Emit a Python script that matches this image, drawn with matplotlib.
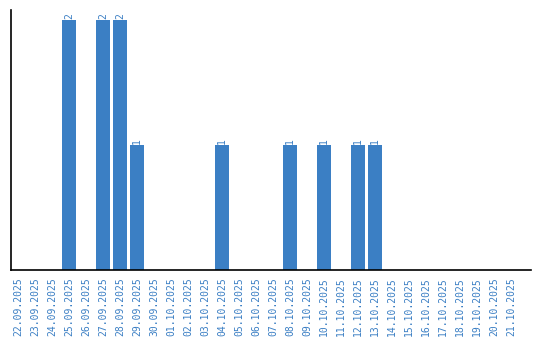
import matplotlib.pyplot as plt
import numpy as np

# daty i liczby
dates = ['22.09.2025', '23.09.2025', '24.09.2025', '25.09.2025', '26.09.2025',
         '27.09.2025', '28.09.2025', '29.09.2025', '30.09.2025', '01.10.2025',
         '02.10.2025', '03.10.2025', '04.10.2025', '05.10.2025', '06.10.2025',
         '07.10.2025', '08.10.2025', '09.10.2025', '10.10.2025', '11.10.2025',
         '12.10.2025', '13.10.2025', '14.10.2025', '15.10.2025', '16.10.2025',
         '17.10.2025', '18.10.2025', '19.10.2025', '20.10.2025', '21.10.2025']
counts = [0, 0, 0, 2, 0, 2, 2, 1, 0, 0,
          0, 0, 1, 0, 0, 0, 1, 0, 1, 0,
          1, 1, 0, 0, 0, 0, 0, 0, 0, 0]

niebieski = '#3b7fc4'
czcionka = 'DejaVu Sans Mono'

fig = plt.figure(figsize=(5.4, 3.4), dpi=100)
ax = fig.add_axes([11/540, 70/340, 520/540, 260/340])

x = np.arange(len(dates))
ax.bar(x, counts, width=0.82, color=niebieski)

# etykiety wartosci nad slupkami
for xi, c in zip(x, counts):
    if c > 0:
        ax.text(xi, c + 0.01, str(c), rotation=90, ha='center', va='bottom',
                color=niebieski, fontsize=7, family=czcionka)

ax.set_xlim(-0.41, 30.18)
ax.set_ylim(0, 2.08)
ax.set_xticks(x)
ax.set_xticklabels(dates, rotation=90, color=niebieski, fontsize=7,
                   family=czcionka)
ax.tick_params(axis='x', length=0, pad=5)
ax.set_yticks([])
for s in ['top', 'right']:
    ax.spines[s].set_visible(False)
ax.spines['left'].set_linewidth(1.2)
ax.spines['bottom'].set_linewidth(1.2)

fig.savefig('out.png', dpi=100)
